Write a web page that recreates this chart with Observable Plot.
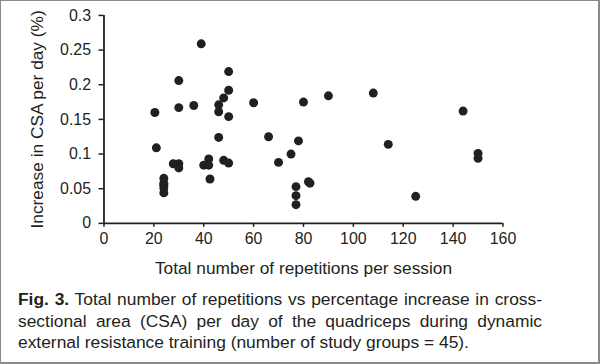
<!DOCTYPE html>
<html><head><meta charset="utf-8">
<script src="https://cdn.jsdelivr.net/npm/d3@7"></script>
<script src="https://cdn.jsdelivr.net/npm/@observablehq/plot@0.6"></script>
<style>
body{margin:0;background:#fff;}
#wrap{position:relative;width:600px;height:364px;box-sizing:border-box;border-style:solid;border-color:#8a8a8a;border-width:1px 2px 2px 1px;overflow:hidden;font-family:"Liberation Sans",Arial,sans-serif;color:#231f20;background:#fff;}
#chart{position:absolute;left:-1px;top:-1px;}
#cap{position:absolute;left:17px;top:288px;width:524px;font-size:17.4px;line-height:21.5px;}
#cap .j{text-align:justify;text-align-last:justify;white-space:nowrap;}
</style>
</head><body>
<div id="wrap"><div id="chart"></div>
<div id="cap">
<div class="j"><b>Fig. 3.</b> Total number of repetitions vs percentage increase in cross-</div>
<div class="j">sectional area (CSA) per day of the quadriceps during dynamic</div>
<div>external resistance training (number of study groups = 45).</div>
</div>
</div>
<script>
const reps = [20.4, 21, 24, 24, 24, 24, 27.8, 30, 30, 30, 30, 36, 39, 40, 42, 42, 42.5, 46, 46, 46, 48, 48, 50, 50, 50, 50, 60, 66, 70, 75, 78, 77, 77, 77, 80, 82, 82.6, 90, 108, 114, 125, 144, 150, 150, 24];
const csa = [0.160, 0.109, 0.065, 0.058, 0.051, 0.044, 0.086, 0.086, 0.080, 0.206, 0.167, 0.170, 0.259, 0.084, 0.084, 0.093, 0.064, 0.171, 0.161, 0.124, 0.181, 0.091, 0.219, 0.192, 0.154, 0.087, 0.174, 0.125, 0.088, 0.100, 0.119, 0.053, 0.040, 0.027, 0.175, 0.060, 0.058, 0.184, 0.188, 0.114, 0.039, 0.162, 0.101, 0.094, 0.055];
const xTicks = [0, 20, 40, 60, 80, 100, 120, 140, 160];
const yTicks = [0, 0.05, 0.1, 0.15, 0.2, 0.25, 0.3];
const xLabel = "Total number of repetitions per session";
const yLabel = "Increase in CSA per day (%)";

const data = reps.map((r, i) => ({r, c: csa[i]}));
const ink = "#231f20";
const chart = Plot.plot({
  width: 601, height: 284,
  marginLeft: 104, marginRight: 96, marginTop: 15, marginBottom: 60,
  style: {fontFamily: '"Liberation Sans", Arial, sans-serif', fontSize: "16px", color: ink, background: "transparent"},
  x: {domain: [0, 160]},
  y: {domain: [0, 0.3]},
  marks: [
    Plot.axisX(xTicks, {tickSize: 4, tickPadding: 5, fontSize: 16, label: null, stroke: ink, strokeWidth: 1.5}),
    Plot.axisY(yTicks, {tickSize: 5, tickPadding: 8, fontSize: 16, tickFormat: d => String(+d.toFixed(2)), label: null, stroke: ink, strokeWidth: 1.5}),
    Plot.text([xLabel], {frameAnchor: "bottom", textAnchor: "middle", lineAnchor: "middle", dy: 45, fontSize: 17.4, fill: ink}),
    Plot.text([yLabel], {frameAnchor: "left", textAnchor: "middle", lineAnchor: "middle", dx: -67, rotate: -90, fontSize: 17.4, fill: ink}),
    Plot.ruleX([0], {y1: 0, y2: 0.3, stroke: ink, strokeWidth: 1.8}),
    Plot.ruleY([0], {x1: 0, x2: 160, stroke: ink, strokeWidth: 1.8}),
    Plot.dot(data, {x: "r", y: "c", r: 4.5, fill: ink, stroke: "none"})
  ]
});
document.getElementById("chart").appendChild(chart);
</script>
</body></html>
